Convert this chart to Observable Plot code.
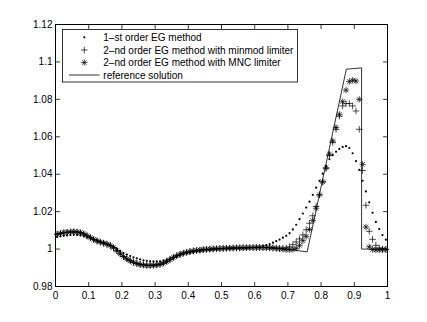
<!DOCTYPE html>
<html><head><meta charset="utf-8">
<script src="https://cdn.jsdelivr.net/npm/d3@7"></script>
<script src="https://cdn.jsdelivr.net/npm/@observablehq/plot@0.6"></script>
<style>
body{margin:0;background:#fff}
#wrap{position:relative;width:427px;height:322px;font-family:"Liberation Sans",Arial,sans-serif}
#wrap svg{position:absolute;left:0;top:0}
</style>
</head><body><div id="wrap"></div>
<script>
// ---- data ----
const seriesNames = ["1–st order EG method", "2–nd order EG method with minmod limiter", "2–nd order EG method with MNC limiter", "reference solution"];
const nCells = 100; // cell centres of the mesh
const xCells = d3.range(nCells).map(i => (i + 0.5) / nCells);

const firstOrder = [
1.0065,1.0068,1.0071,1.0073,1.0075,1.0076,1.0075,1.0073,1.0069,1.0064,
1.0058,1.0052,1.0046,1.0040,1.0034,1.0027,1.0019,1.0010,1.0000,0.9990,
0.9980,0.9971,0.9963,0.9956,0.9950,0.9945,0.9940,0.9937,0.9935,0.9934,
0.9934,0.9935,0.9938,0.9942,0.9947,0.9953,0.9959,0.9965,0.9970,0.9975,
0.9979,0.9983,0.9986,0.9989,0.9991,0.9993,0.9995,0.9997,0.9998,0.9999,
1.0000,1.0001,1.0002,1.0003,1.0004,1.0004,1.0005,1.0006,1.0007,1.0008,
1.0010,1.0012,1.0016,1.0021,1.0027,1.0034,1.0042,1.0051,1.0061,1.0071,
1.0085,1.0105,1.0130,1.0160,1.0190,1.0222,1.0253,1.0290,1.0328,1.0365,
1.0403,1.0443,1.0480,1.0503,1.0520,1.0535,1.0546,1.0550,1.0540,1.0512,
1.0470,1.0423,1.0365,1.0308,1.0250,1.0194,1.0145,1.0107,1.0075,1.0050];

const minmod = [
1.0078,1.0083,1.0087,1.0089,1.0091,1.0091,1.0090,1.0086,1.0079,1.0070,
1.0060,1.0051,1.0043,1.0037,1.0031,1.0025,1.0017,1.0005,0.9990,0.9974,
0.9960,0.9948,0.9938,0.9930,0.9924,0.9919,0.9916,0.9914,0.9914,0.9915,
0.9917,0.9921,0.9927,0.9936,0.9946,0.9956,0.9965,0.9972,0.9978,0.9983,
0.9987,0.9990,0.9992,0.9994,0.9996,0.9998,0.9999,1.0000,1.0001,1.0002,
1.0003,1.0004,1.0005,1.0005,1.0006,1.0006,1.0007,1.0007,1.0007,1.0008,
1.0008,1.0008,1.0008,1.0008,1.0007,1.0006,1.0005,1.0004,1.0004,1.0006,
1.0012,1.0024,1.0038,1.0054,1.0076,1.0103,1.0138,1.0178,1.0228,1.0290,
1.0358,1.0430,1.0500,1.0570,1.0640,1.0710,1.0765,1.0777,1.0778,1.0765,
1.0738,1.0640,1.0420,1.0234,1.0095,1.0052,1.0020,1.0005,1.0000,0.9998];

const mnc = [
1.0080,1.0084,1.0088,1.0090,1.0092,1.0093,1.0092,1.0088,1.0082,1.0072,
1.0062,1.0052,1.0044,1.0037,1.0032,1.0027,1.0020,1.0008,0.9992,0.9975,
0.9960,0.9947,0.9937,0.9929,0.9922,0.9917,0.9914,0.9912,0.9912,0.9913,
0.9915,0.9918,0.9924,0.9933,0.9944,0.9955,0.9964,0.9972,0.9978,0.9983,
0.9987,0.9990,0.9993,0.9995,0.9997,0.9999,1.0000,1.0001,1.0002,1.0003,
1.0004,1.0005,1.0005,1.0006,1.0006,1.0007,1.0007,1.0007,1.0008,1.0008,
1.0008,1.0008,1.0008,1.0008,1.0007,1.0006,1.0004,1.0002,1.0000,0.9998,
0.9997,0.9998,1.0004,1.0020,1.0045,1.0068,1.0105,1.0153,1.0218,1.0290,
1.0360,1.0435,1.0508,1.0578,1.0650,1.0720,1.0788,1.0849,1.0895,1.0902,
1.0898,1.0800,1.0453,1.0118,1.0012,0.9998,0.9995,0.9996,0.9997,0.9998];

const refX = [0,0.02,0.04,0.06,0.08,0.10,0.12,0.14,0.16,0.18,0.20,0.22,0.24,0.26,0.28,0.30,0.32,0.34,0.36,0.38,0.40,0.44,0.48,0.52,0.56,0.60,0.64,0.68,0.72,0.758,0.876,0.922,0.922,1.0];
const refY = [1.0080,1.0086,1.0091,1.0093,1.0088,1.0068,1.0047,1.0034,1.0026,1.0010,0.9968,0.9942,0.9926,0.9916,0.9912,0.9913,0.9918,0.9932,0.9958,0.9976,0.9985,0.9995,1.0001,1.0005,1.0007,1.0008,1.0008,1.0002,0.9994,0.9985,1.0961,1.0968,1.0,1.0];

const xTicks = [0,0.1,0.2,0.3,0.4,0.5,0.6,0.7,0.8,0.9,1];
const xTickLabels = ["0","0.1","0.2","0.3","0.4","0.5","0.6","0.7","0.8","0.9","1"];
const yTicks = [0.98,1,1.02,1.04,1.06,1.08,1.1,1.12];
const yTickLabels = ["0.98","1","1.02","1.04","1.06","1.08","1.1","1.12"];

// ---- symbols / shapes ----
const plusSym = {draw(c){const r=3.3;c.moveTo(-r,0);c.lineTo(r,0);c.moveTo(0,-r);c.lineTo(0,r);}};
const starSym = {draw(c){const r=3.2,d=r*0.72;c.moveTo(-r,0);c.lineTo(r,0);c.moveTo(0,-r);c.lineTo(0,r);c.moveTo(-d,-d);c.lineTo(d,d);c.moveTo(-d,d);c.lineTo(d,-d);}};
const tickShape = {draw(c,l){c.moveTo(0,0);c.lineTo(0,-l);}};

const rows = (ys, xs) => ys.map((y,i) => ({x: xs[i], y}));
const xFmt = new Map(xTicks.map((t,i)=>[t,xTickLabels[i]]));
const yFmt = new Map(yTicks.map((t,i)=>[t,yTickLabels[i]]));

const chart = Plot.plot({
  width:427, height:322,
  marginLeft:55, marginRight:40, marginTop:24, marginBottom:36,
  x:{domain:[0,1]}, y:{domain:[0.98,1.12]},
  style:{fontFamily:"'Liberation Sans', Arial, sans-serif", fontSize:"10px", color:"black", background:"white", overflow:"visible"},
  marks:[
    Plot.line(rows(refY, refX), {x:"x", y:"y", stroke:"black", strokeWidth:0.8}),
    Plot.dot(rows(firstOrder, xCells), {x:"x", y:"y", r:1.1, fill:"black", stroke:"none"}),
    Plot.dot(rows(minmod, xCells), {x:"x", y:"y", symbol:plusSym, fill:"none", stroke:"black", strokeWidth:0.7}),
    Plot.dot(rows(mnc, xCells), {x:"x", y:"y", symbol:starSym, fill:"none", stroke:"black", strokeWidth:0.7}),
    Plot.axisX({ticks:xTicks, tickFormat:d=>xFmt.get(d), tickSize:0, tickPadding:5, label:null}),
    Plot.axisY({ticks:yTicks, tickFormat:d=>yFmt.get(d), tickSize:0, tickPadding:3, label:null}),
    Plot.vector(xTicks, {x:d=>d, frameAnchor:"bottom", rotate:0, length:4, anchor:"start", shape:tickShape, stroke:"black", strokeWidth:0.8}),
    Plot.vector(xTicks, {x:d=>d, frameAnchor:"top", rotate:180, length:4, anchor:"start", shape:tickShape, stroke:"black", strokeWidth:0.8}),
    Plot.vector(yTicks, {y:d=>d, frameAnchor:"left", rotate:90, length:4, anchor:"start", shape:tickShape, stroke:"black", strokeWidth:0.8}),
    Plot.vector(yTicks, {y:d=>d, frameAnchor:"right", rotate:-90, length:4, anchor:"start", shape:tickShape, stroke:"black", strokeWidth:0.8}),
    Plot.frame({stroke:"black", strokeWidth:1})
  ]
});
const wrap = document.getElementById("wrap");
wrap.appendChild(chart);

// ---- legend (inside the axes, top-left) ----
const lg = d3.select(wrap).append("svg").attr("width",427).attr("height",322)
  .style("font-family","'Liberation Sans', Arial, sans-serif").style("font-size","10px");
const box = {x:62.5, y:29.5, w:235, h:52.5};
lg.append("rect").attr("x",box.x).attr("y",box.y).attr("width",box.w).attr("height",box.h)
  .attr("fill","white").attr("stroke","black").attr("stroke-width",0.8);
const rowY = [37.3, 50, 62.5, 75];
const symX = 84.3;
const path = sym => { const p = d3.path(); sym.draw(p, 0); return p.toString(); };
lg.append("circle").attr("cx",symX).attr("cy",rowY[0]).attr("r",1.1).attr("fill","black");
lg.append("path").attr("d",path(plusSym)).attr("transform",`translate(${symX},${rowY[1]})`).attr("stroke","black").attr("stroke-width",0.7).attr("fill","none");
lg.append("path").attr("d",path(starSym)).attr("transform",`translate(${symX},${rowY[2]})`).attr("stroke","black").attr("stroke-width",0.7).attr("fill","none");
lg.append("line").attr("x1",69).attr("x2",99.5).attr("y1",rowY[3]).attr("y2",rowY[3]).attr("stroke","black").attr("stroke-width",0.8);
lg.selectAll("text.lab").data(seriesNames).join("text").attr("class","lab")
  .attr("x",103.3).attr("y",(d,i)=>rowY[i]).attr("dy","0.35em").attr("fill","black").text(d=>d);
</script>
</body></html>
